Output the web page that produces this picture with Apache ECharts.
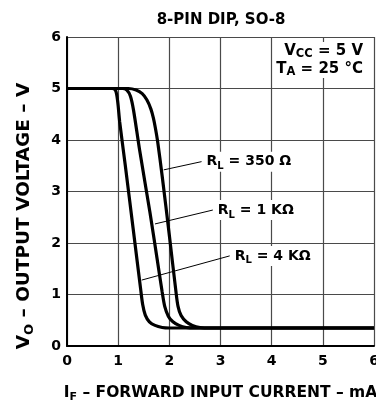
<!DOCTYPE html>
<html>
<head>
<meta charset="utf-8">
<script src="https://cdn.jsdelivr.net/npm/echarts@6/dist/echarts.min.js"></script>
<style>
  html, body { margin: 0; padding: 0; background: #fff; }
  #chart { width: 376px; height: 401px; }
</style>
</head>
<body>
<div id="chart"></div>
<script>
// Output voltage vs forward input current, three load resistors
const rl4k = [[0, 5], [0.88, 5], [0.95, 4.96], [0.99, 4.75], [1.03, 4.35], [1.14, 3.5], [1.29, 2.3],
  [1.44, 1.1], [1.48, 0.8], [1.53, 0.6], [1.61, 0.47], [1.72, 0.4], [1.86, 0.36], [2.0, 0.35], [6, 0.35]];
const rl1k = [[0, 5], [1.08, 5], [1.17, 4.97], [1.24, 4.85], [1.3, 4.58], [1.42, 3.8], [1.62, 2.6],
  [1.76, 1.7], [1.86, 1.05], [1.91, 0.77], [1.98, 0.58], [2.07, 0.47], [2.19, 0.4], [2.33, 0.36],
  [2.5, 0.35], [6, 0.35]];
const rl350 = [[0, 5], [1.2, 5], [1.35, 4.97], [1.47, 4.9], [1.56, 4.78], [1.64, 4.6],
  [1.69, 4.42], [1.73, 4.22], [1.77, 3.98], [1.86, 3.3], [2.0, 2.15], [2.13, 1.05], [2.17, 0.77],
  [2.23, 0.59], [2.33, 0.47], [2.45, 0.4], [2.6, 0.36], [2.8, 0.35], [6, 0.35]];

// leader lines from curve to label
const lead350 = [[1.89, 3.42], [2.63, 3.58]];
const lead1k = [[1.72, 2.37], [2.85, 2.64]];
const lead4k = [[1.46, 1.28], [3.18, 1.75]];

const xTicks = [0, 1, 2, 3, 4, 5, 6];
const yTicks = [0, 1, 2, 3, 4, 5, 6];

const FONT = 'DejaVu Sans';
const rich = {
  b: { fontFamily: FONT, fontWeight: 'bold', fontSize: 14, lineHeight: 20, color: '#000' },
  s: { fontFamily: FONT, fontWeight: 'bold', fontSize: 10, lineHeight: 10, verticalAlign: 'bottom', color: '#000' }
};
const nameRich = {
  b: { fontFamily: FONT, fontWeight: 'bold', fontSize: 15.5, lineHeight: 21, color: '#000' },
  s: { fontFamily: FONT, fontWeight: 'bold', fontSize: 11, lineHeight: 11, verticalAlign: 'bottom', color: '#000' }
};

function curve(data) {
  return {
    type: 'line', data: data, showSymbol: false, smooth: 0.3,
    lineStyle: { color: '#000', width: 3.2 }, z: 3, silent: true
  };
}

function leader(data, text) {
  return {
    type: 'line', data: data, showSymbol: false, silent: true, z: 4,
    lineStyle: { color: '#000', width: 1 },
    endLabel: {
      show: true, distance: 4, formatter: text, rich: rich,
      backgroundColor: '#fff', padding: [0, 1, 0, 1]
    }
  };
}

const chart = echarts.init(document.getElementById('chart'));
chart.setOption({
  animation: false,
  backgroundColor: '#fff',
  grid: { left: 67, right: 2, top: 37, bottom: 55, containLabel: false, outerBoundsMode: 'none' },
  xAxis: {
    type: 'value', min: xTicks[0], max: xTicks[xTicks.length - 1], interval: 1,
    axisLine: { lineStyle: { color: '#000', width: 2 } },
    axisTick: { show: false },
    axisLabel: { color: '#000', fontFamily: FONT, fontWeight: 'bold', fontSize: 14, margin: 8 },
    splitLine: { show: true, lineStyle: { color: '#4a4a4a', width: 1.2 } },
    name: '{b|I}{s|F}{b| – FORWARD INPUT CURRENT – mA}',
    nameLocation: 'middle', nameGap: 36,
    nameTextStyle: { rich: nameRich }
  },
  yAxis: {
    type: 'value', min: yTicks[0], max: yTicks[yTicks.length - 1], interval: 1,
    axisLine: { show: true, lineStyle: { color: '#000', width: 2 } },
    axisTick: { show: false },
    axisLabel: { color: '#000', fontFamily: FONT, fontWeight: 'bold', fontSize: 14, margin: 6 },
    splitLine: { show: true, lineStyle: { color: '#4a4a4a', width: 1.2 } }
  },
  graphic: [
    {
      type: 'text', x: 221, y: 20, z: 10,
      style: {
        text: '8-PIN DIP, SO-8', font: 'bold 15px "DejaVu Sans"', fill: '#000',
        align: 'center', verticalAlign: 'middle'
      }
    },
    {
      type: 'text', x: 24, y: 216, rotation: Math.PI / 2, z: 10,
      style: {
        text: '{b|V}{s|O}{b| – OUTPUT VOLTAGE – V}',
        align: 'center', verticalAlign: 'middle',
        rich: {
          b: { fontFamily: FONT, fontWeight: 'bold', fontSize: 18.5, lineHeight: 24, fill: '#000' },
          s: { fontFamily: FONT, fontWeight: 'bold', fontSize: 13, lineHeight: 13, verticalAlign: 'bottom', fill: '#000' }
        }
      }
    },
    {
      type: 'text', x: 365, y: 42, z: 10,
      style: {
        text: '{b|V}{s|CC}{b| = 5 V}\n{b|T}{s|A}{b| = 25 °C}',
        align: 'right', verticalAlign: 'top',
        backgroundColor: '#fff', padding: [0, 2, 0, 2],
        rich: {
          b: { fontFamily: FONT, fontWeight: 'bold', fontSize: 15, lineHeight: 18, fill: '#000' },
          s: { fontFamily: FONT, fontWeight: 'bold', fontSize: 11.5, lineHeight: 10, verticalAlign: 'bottom', fill: '#000' }
        }
      }
    }
  ],
  series: [
    curve(rl4k), curve(rl1k), curve(rl350),
    leader(lead350, '{b|R}{s|L}{b| = 350 Ω}'),
    leader(lead1k, '{b|R}{s|L}{b| = 1 KΩ}'),
    leader(lead4k, '{b|R}{s|L}{b| = 4 KΩ}')
  ]
});
</script>
</body>
</html>
